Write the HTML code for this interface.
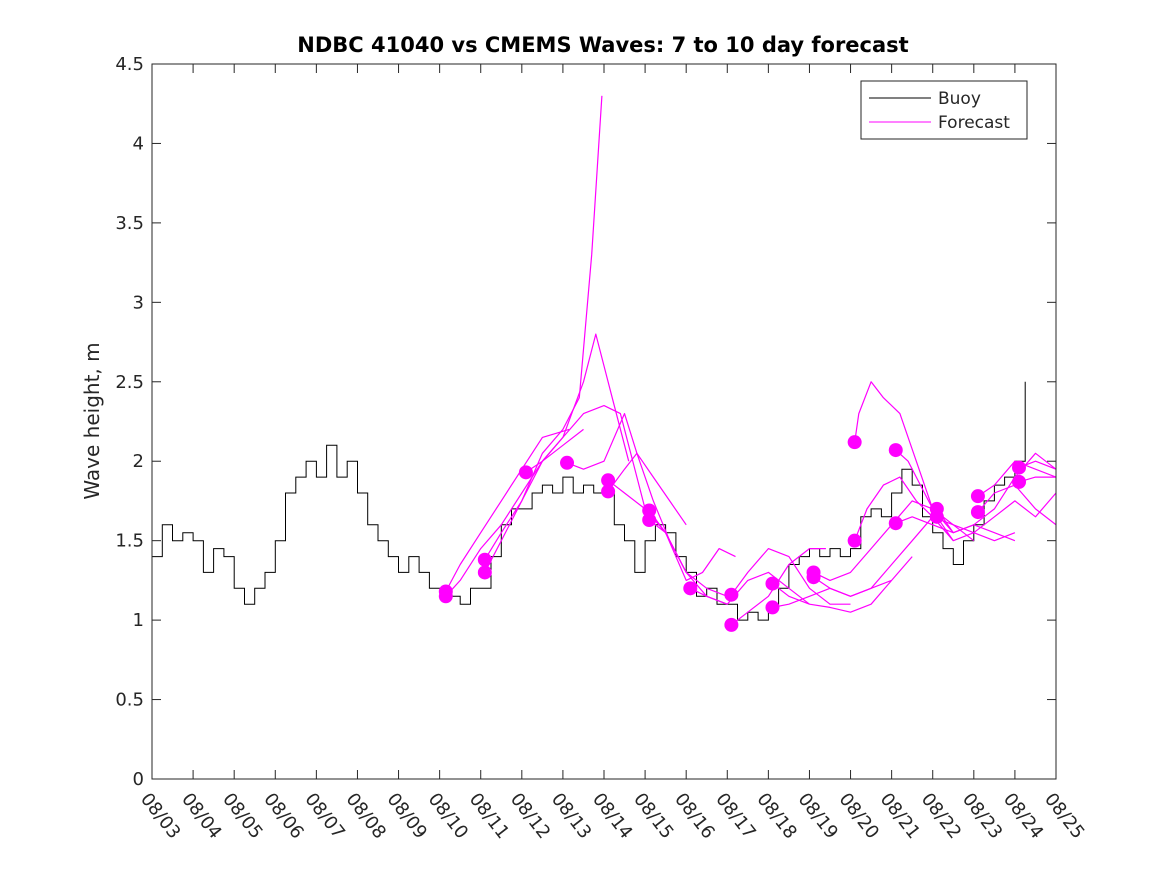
<!DOCTYPE html>
<html><head><meta charset="utf-8"><style>
html,body{margin:0;padding:0;background:#fff;}
svg text{font-family:"DejaVu Sans","Liberation Sans",sans-serif;fill:#262626;}
</style></head><body>
<svg id="chart" width="1167" height="875" xmlns="http://www.w3.org/2000/svg">
<text x="603" y="52" text-anchor="middle" font-size="21" font-weight="bold" style="fill:#000">NDBC 41040 vs CMEMS Waves: 7 to 10 day forecast</text>
<text transform="translate(99,421) rotate(-90)" text-anchor="middle" font-size="20">Wave height, m</text>
<g id="plot"></g>
<g id="axes"></g>
<g>
<rect x="861" y="81" width="166" height="58" fill="#fff" stroke="#262626" stroke-width="1"/>
<line x1="869" y1="98" x2="931" y2="98" stroke="#000" stroke-width="1"/>
<text x="938" y="104" font-size="17">Buoy</text>
<line x1="869" y1="122" x2="931" y2="122" stroke="#f0f" stroke-width="1"/>
<text x="938" y="128" font-size="17">Forecast</text>
</g>
</svg>
<script>
const xTickLabels=["08/03","08/04","08/05","08/06","08/07","08/08","08/09","08/10","08/11","08/12","08/13","08/14","08/15","08/16","08/17","08/18","08/19","08/20","08/21","08/22","08/23","08/24","08/25"];
const yTicks=[0,0.5,1,1.5,2,2.5,3,3.5,4,4.5];
const buoyStart=3.0, buoyStep=0.25;
const buoyValues=[1.4,1.6,1.5,1.55, 1.5,1.3,1.45,1.4, 1.2,1.1,1.2,1.3, 1.5,1.8,1.9,2.0, 1.9,2.1,1.9,2.0, 1.8,1.6,1.5,1.4, 1.3,1.4,1.3,1.2, 1.2,1.15,1.1,1.2, 1.2,1.4,1.6,1.7, 1.7,1.8,1.85,1.8, 1.9,1.8,1.85,1.8, 1.8,1.6,1.5,1.3, 1.5,1.6,1.55,1.4, 1.3,1.15,1.2,1.1, 1.1,1.0,1.05,1.0, 1.1,1.2,1.35,1.4, 1.45,1.4,1.45,1.4, 1.45,1.65,1.7,1.65, 1.8,1.95,1.85,1.65, 1.55,1.45,1.35,1.5, 1.6,1.75,1.85,1.9, 2.0,2.5];
const fcDays=[
[10.15,10.5,11,11.5,12,12.5,13.15],
[10.15,10.5,11,11.5,12,12.5,13,13.5],
[11.1,11.5,12,12.5,13,13.4,13.7,13.95],
[11.1,11.5,12,12.5,13,13.5,13.8,14.2,14.6],
[12.1,12.5,13,13.5,14,14.4,14.8,15.1],
[13.1,13.5,14,14.5,14.8,15.2,15.6,16.0],
[14.1,14.5,15,15.5,16,16.5,17],
[14.1,14.5,14.8,15.2,15.6,16.0],
[15.1,15.5,16,16.5,17],
[15.1,15.5,16,16.4,16.8,17.2],
[16.1,16.5,17,17.5,18,18.5,19],
[17.1,17.5,18,18.5,19,19.5,20],
[17.1,17.5,18,18.5,19,19.4],
[18.1,18.5,19,19.5,20,20.5,21,21.5],
[18.1,18.5,19,19.5,20,20.5,21],
[19.1,19.5,20,20.5,21,21.5,22],
[19.1,19.5,20,20.5,21,21.5,22,22.5],
[20.1,20.2,20.5,20.8,21.2,21.6,22,22.5],
[20.1,20.4,20.8,21.2,21.6,22,22.5,23],
[21.1,21.4,21.7,22,22.5,23,23.5,24],
[21.1,21.5,22,22.5,23,23.5,24],
[22.1,22.5,23,23.5,24,24.5,25],
[22.1,22.5,23,23.5,24,24.5,25],
[23.1,23.5,24,24.5,25],
[23.1,23.5,24,24.5,25],
[24.1,24.5,25],
[24.1,24.5,25]];
const fcValues=[
[1.18,1.35,1.55,1.75,1.95,2.15,2.2],
[1.15,1.25,1.45,1.6,1.8,2.0,2.1,2.2],
[1.30,1.5,1.75,2.05,2.2,2.4,3.3,4.3],
[1.38,1.55,1.75,2.0,2.15,2.5,2.8,2.4,2.0],
[1.93,2.0,2.15,2.3,2.35,2.3,1.9,1.6],
[1.99,1.95,2.0,2.3,2.05,1.75,1.5,1.3],
[1.88,1.8,1.7,1.55,1.3,1.2,1.15],
[1.81,1.95,2.05,1.9,1.75,1.6],
[1.69,1.55,1.3,1.15,1.1],
[1.63,1.55,1.25,1.3,1.45,1.4],
[1.2,1.15,1.1,1.25,1.3,1.2,1.1],
[1.16,1.3,1.45,1.4,1.2,1.1,1.1],
[0.97,1.05,1.15,1.35,1.45,1.45],
[1.23,1.15,1.1,1.08,1.05,1.1,1.25,1.4],
[1.08,1.1,1.15,1.2,1.15,1.2,1.25],
[1.3,1.25,1.3,1.45,1.6,1.75,1.7],
[1.27,1.2,1.15,1.2,1.35,1.5,1.65,1.5],
[2.12,2.3,2.5,2.4,2.3,2.0,1.7,1.55],
[1.5,1.7,1.85,1.9,1.75,1.65,1.6,1.5],
[2.07,2.0,1.85,1.7,1.6,1.55,1.5,1.55],
[1.61,1.65,1.6,1.55,1.6,1.55,1.5],
[1.7,1.55,1.6,1.7,1.9,2.05,1.95],
[1.65,1.5,1.55,1.65,1.75,1.65,1.8],
[1.78,1.85,2.0,1.95,1.9],
[1.68,1.8,1.85,1.7,1.6],
[1.96,2.0,1.95],
[1.87,1.9,1.9]];

const X0=152,X1=1056,Y0=779,Y1=64;
function xs(d){return X0+(d-3)*(X1-X0)/22;}
function ys(v){return Y0-v*(Y0-Y1)/4.5;}
const NS="http://www.w3.org/2000/svg";
function mk(tag,attrs,parent){const e=document.createElementNS(NS,tag);for(const k in attrs)e.setAttribute(k,attrs[k]);parent.appendChild(e);return e;}
const plot=document.getElementById('plot'), axes=document.getElementById('axes');
const clip=mk('clipPath',{id:'clp'},plot);mk('rect',{x:X0,y:Y1,width:X1-X0,height:Y0-Y1},clip);
const g=mk('g',{'clip-path':'url(#clp)'},plot);
// buoy (stairs)
let spts=[];
buoyValues.forEach((v,i)=>{
  const xa=xs(buoyStart+i*buoyStep), xb=xs(buoyStart+(i+1)*buoyStep);
  spts.push(xa.toFixed(1)+','+ys(v).toFixed(1));
  if(i<buoyValues.length-1) spts.push(xb.toFixed(1)+','+ys(v).toFixed(1));
});
const bl=mk('polyline',{points:spts.join(' '),fill:'none',stroke:'#000','stroke-width':1},g);


// forecasts
fcDays.forEach((days,k)=>{
  const p=days.map((d,i)=>xs(d).toFixed(1)+','+ys(fcValues[k][i]).toFixed(1)).join(' ');
  const l=mk('polyline',{points:p,fill:'none',stroke:'#f0f','stroke-width':1.2,'stroke-linejoin':'round'},g);
  
  
});
fcDays.forEach((days,k)=>{
  const c=mk('circle',{cx:xs(days[0]),cy:ys(fcValues[k][0]),r:7,fill:'#f0f'},g);
  
  
});
// axes box
mk('rect',{x:X0,y:Y1,width:X1-X0,height:Y0-Y1,fill:'none',stroke:'#262626','stroke-width':1},axes);
xTickLabels.forEach((lab,i)=>{
  const x=xs(3+i);
  mk('line',{x1:x,y1:Y0,x2:x,y2:Y0-9,stroke:'#262626'},axes);
  mk('line',{x1:x,y1:Y1,x2:x,y2:Y1+9,stroke:'#262626'},axes);
  const t=mk('text',{transform:`translate(${x-12},${Y0+20}) rotate(52)`,'font-size':18},axes);
  t.textContent=lab;
  
  
});
yTicks.forEach(v=>{
  const y=ys(v);
  mk('line',{x1:X0,y1:y,x2:X0+9,y2:y,stroke:'#262626'},axes);
  mk('line',{x1:X1,y1:y,x2:X1-9,y2:y,stroke:'#262626'},axes);
  const t=mk('text',{x:X0-8,y:y+6,'text-anchor':'end','font-size':18},axes);
  t.textContent=String(v);
  
  
});
</script>
</body></html>
